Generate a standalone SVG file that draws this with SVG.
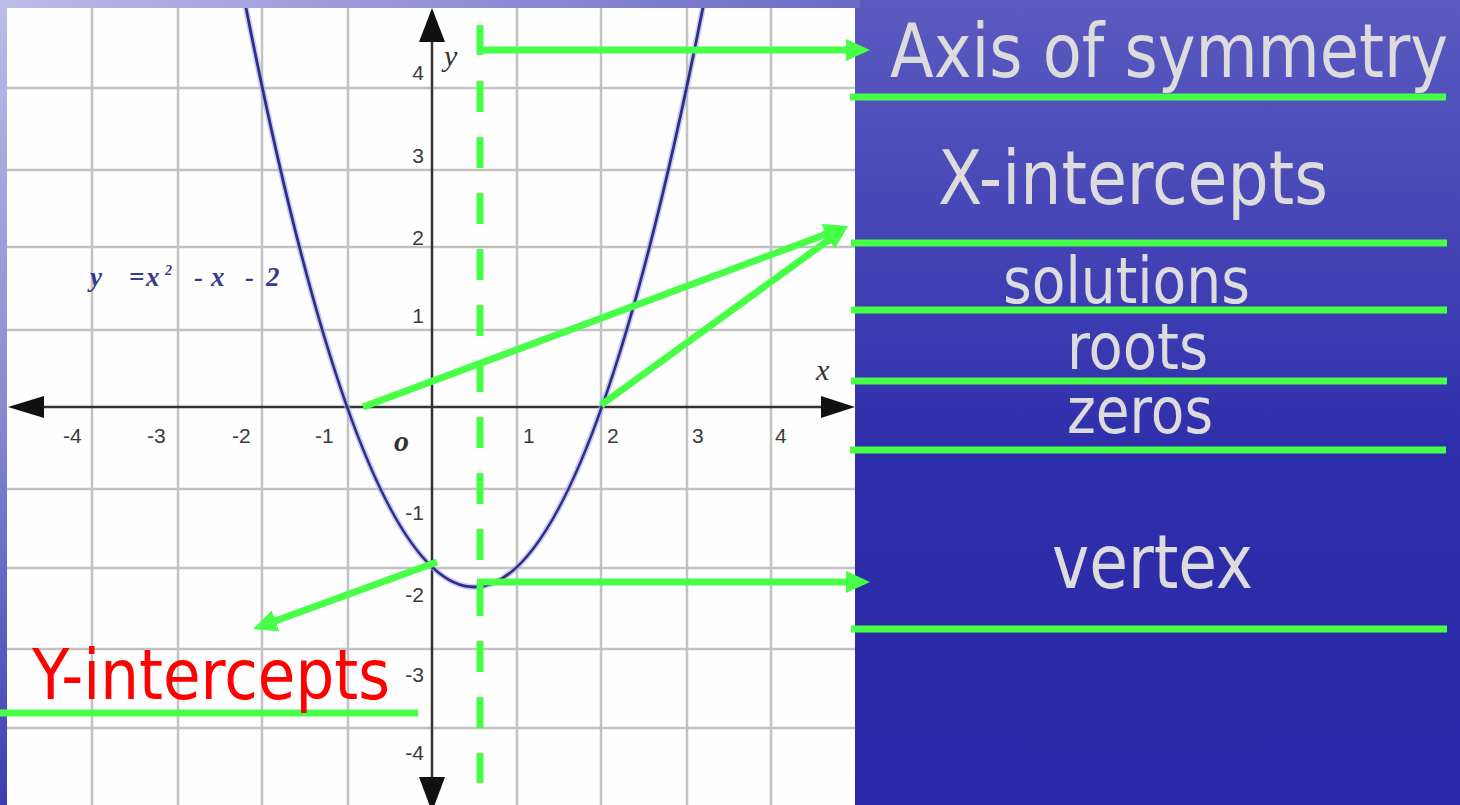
<svg xmlns="http://www.w3.org/2000/svg" width="1460" height="805" viewBox="0 0 1460 805">
<defs>
<linearGradient id="bg" x1="0" y1="0" x2="0" y2="1">
<stop offset="0" stop-color="#5a5ac0"/>
<stop offset="0.3" stop-color="#4444b6"/>
<stop offset="0.55" stop-color="#2f2fab"/>
<stop offset="1" stop-color="#2828a6"/>
</linearGradient>
<linearGradient id="leftStrip" x1="0" y1="0" x2="0" y2="1">
<stop offset="0" stop-color="#bcbce8"/>
<stop offset="0.5" stop-color="#8a8ad2"/>
<stop offset="1" stop-color="#3c3cb2"/>
</linearGradient>
<linearGradient id="topStrip" x1="0" y1="0" x2="1" y2="0">
<stop offset="0" stop-color="#bcbce8"/>
<stop offset="1" stop-color="#6a6ac6"/>
</linearGradient>
<clipPath id="panel"><rect x="7" y="8" width="848" height="797"/></clipPath>
<marker id="head" markerUnits="userSpaceOnUse" markerWidth="26" markerHeight="24" viewBox="0 0 26 24" refX="4" refY="12" orient="auto">
<path d="M0,1 L24,12 L0,23 z" fill="#46ff46"/>
</marker>
<style>
.grid{stroke:#c2c2c2;stroke-width:2.5;fill:none}
.axis{stroke:#333;stroke-width:2.5;fill:none}
.ahead{fill:#111}
.tick{font-family:"Liberation Sans",Arial,sans-serif;font-size:21px;fill:#3a3a3a}
.ital{font-family:"Liberation Serif","Times New Roman",serif;font-style:italic;fill:#333}
.eq{font-family:"Liberation Serif","Times New Roman",serif;font-style:italic;font-weight:bold;font-size:27px;fill:#3a3a8c}
.g{stroke:#46ff46;stroke-width:7;fill:none}
.ga{stroke:#46ff46;stroke-width:7;fill:none;marker-end:url(#head)}
.lbl{font-family:"DejaVu Sans","Noto Sans",sans-serif;font-stretch:condensed;fill:#dcdcdc}
</style>
</defs>

<g id="background">
<rect x="0" y="0" width="1460" height="805" fill="url(#bg)"/>
<rect x="0" y="0" width="8" height="805" fill="url(#leftStrip)"/>
<rect x="0" y="0" width="860" height="8" fill="url(#topStrip)"/>
</g>

<g id="graph">
<rect x="7" y="8" width="848" height="797" fill="#fefefe"/>
<g id="grid" class="grid">
<path d="M92,8V805M178,8V805M262,8V805M348,8V805M517,8V805M601,8V805M687,8V805M771,8V805"/>
<path d="M7,88H855M7,170H855M7,247H855M7,330H855M7,489H855M7,568H855M7,649H855M7,728H855"/>
</g>
<g id="axes">
<path class="axis" d="M40,407H825M432,40V780"/>
<polygon class="ahead" points="8,407 44,396 44,418"/>
<polygon class="ahead" points="855,407 821,396 821,418"/>
<polygon class="ahead" points="432,8 419,42 445,42"/>
<polygon class="ahead" points="432,812 419,777 445,777"/>
</g>
<g id="ticks" class="tick">
<text x="424" y="80" text-anchor="end">4</text>
<text x="424" y="163" text-anchor="end">3</text>
<text x="424" y="245" text-anchor="end">2</text>
<text x="424" y="323" text-anchor="end">1</text>
<text x="424" y="520" text-anchor="end">-1</text>
<text x="424" y="602" text-anchor="end">-2</text>
<text x="424" y="682" text-anchor="end">-3</text>
<text x="424" y="760" text-anchor="end">-4</text>
<text x="63" y="443">-4</text>
<text x="147" y="443">-3</text>
<text x="232" y="443">-2</text>
<text x="315" y="443">-1</text>
<text x="523" y="443">1</text>
<text x="607" y="443">2</text>
<text x="692" y="443">3</text>
<text x="775" y="443">4</text>
</g>
<text class="ital" x="394" y="451" font-size="30" font-weight="bold">o</text>
<text class="ital" x="444" y="66" font-size="30">y</text>
<text class="ital" x="816" y="380" font-size="30">x</text>
<text class="eq" y="286"><tspan x="90">y</tspan><tspan x="129">=</tspan><tspan x="146">x</tspan><tspan x="165" y="275" font-size="14">2</tspan><tspan x="194" y="286">-</tspan><tspan x="211">x</tspan><tspan x="245">-</tspan><tspan x="266">2</tspan></text>
<g id="parabola" clip-path="url(#panel)">
<path d="M245.2,3.8 Q474.5,1170.2 703.7,3.8" fill="none" stroke="#a8a8e8" stroke-width="6" opacity="0.6"/>
<path d="M245.2,3.8 Q474.5,1170.2 703.7,3.8" fill="none" stroke="#2e2e88" stroke-width="2.8"/>
</g>
</g>

<g id="connectors">
<path class="g" d="M480,25V55"/>
<path class="g" d="M480,81V783" stroke-dasharray="31 25"/>
<path class="ga" d="M477,50H850"/>
<path class="ga" d="M477,582H850"/>
<path class="ga" d="M363,407L829.3,233"/>
<path class="ga" d="M601,405L831.8,237.7"/>
<path class="ga" d="M437,562L271.8,622.2"/>
</g>

<g id="underlines" class="g">
<path d="M850,97H1446"/>
<path d="M851,243H1447"/>
<path d="M851,310H1447"/>
<path d="M851,381H1447"/>
<path d="M850,450H1446"/>
<path d="M851,629H1447"/>
<path d="M0,713H418"/>
</g>

<g id="label-axis"><text class="lbl" x="890" y="77" font-size="74" textLength="558" lengthAdjust="spacingAndGlyphs">Axis of symmetry</text></g>
<g id="label-xint"><text class="lbl" x="938" y="204" font-size="74" textLength="390" lengthAdjust="spacingAndGlyphs">X-intercepts</text></g>
<g id="label-solutions"><text class="lbl" x="1003" y="303" font-size="64" textLength="247" lengthAdjust="spacingAndGlyphs">solutions</text></g>
<g id="label-roots"><text class="lbl" x="1067" y="369" font-size="64" textLength="141" lengthAdjust="spacingAndGlyphs">roots</text></g>
<g id="label-zeros"><text class="lbl" x="1067" y="433" font-size="64" textLength="146" lengthAdjust="spacingAndGlyphs">zeros</text></g>
<g id="label-vertex"><text class="lbl" x="1052" y="588" font-size="74" textLength="201" lengthAdjust="spacingAndGlyphs">vertex</text></g>
<g id="label-yint"><text class="lbl" x="32" y="699" font-size="69" textLength="358" lengthAdjust="spacingAndGlyphs" style="fill:#ff0000">Y-intercepts</text></g>
</svg>
